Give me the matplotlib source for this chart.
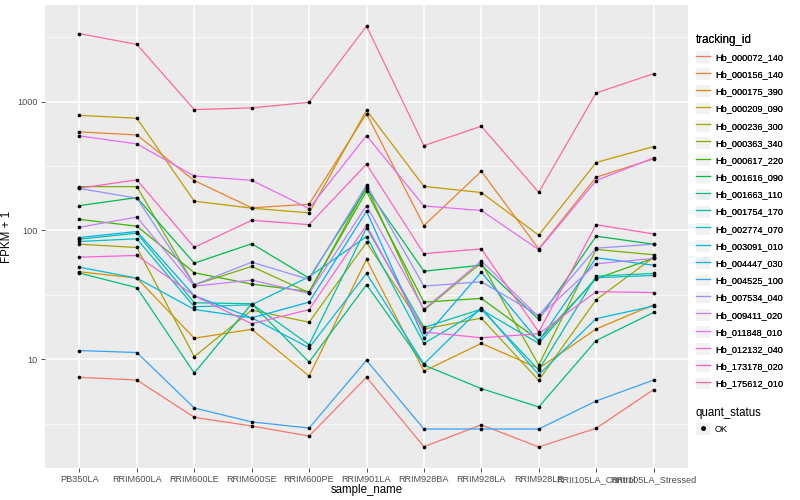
import matplotlib.pyplot as plt
import matplotlib.ticker as mticker
from matplotlib.lines import Line2D
from matplotlib.patches import Rectangle
from matplotlib.legend_handler import HandlerTuple

plt.rcParams['font.family'] = ['Liberation Sans', 'DejaVu Sans']

samples = ['PB350LA', 'RRIM600LA', 'RRIM600LE', 'RRIM600SE', 'RRIM600PE', 'RRIM901LA',
           'RRIM928BA', 'RRIM928LA', 'RRIM928LE', 'RRII105LA_Control', 'RRII105LA_Stressed']

# FPKM + 1 per gene, one value per sample
hb_000072_140 = [7.25, 6.91, 3.55, 3.04, 2.54, 7.25, 2.10, 3.10, 2.09, 2.92, 5.82]
hb_000156_140 = [582, 552, 244, 150, 160, 807, 109, 288, 72, 259, 360]
hb_000175_390 = [47.8, 42.7, 14.6, 17.1, 7.43, 59.6, 8.11, 13.3, 8.51, 17.2, 26.5]
hb_000209_090 = [783, 743, 169, 149, 137, 856, 220, 197, 92, 337, 448]
hb_000236_300 = [78.3, 73.8, 10.5, 24.1, 19.4, 80.7, 17.2, 20.9, 6.87, 29.0, 61.8]
hb_000363_340 = [219, 219, 37.9, 52.6, 32.9, 219, 24.0, 56.2, 9.03, 71.3, 64.8]
hb_000617_220 = [122, 108, 47.0, 38.4, 33.5, 202, 27.8, 29.7, 14.1, 42.2, 61.0]
hb_001616_090 = [156, 180, 55.8, 78.9, 42.7, 212, 48.3, 53.8, 20.4, 90.3, 78.3]
hb_001663_110 = [46.7, 36.0, 7.83, 27.0, 9.53, 37.9, 9.03, 5.93, 4.27, 14.0, 23.1]
hb_001754_170 = [85.6, 95.3, 27.5, 27.0, 13.0, 105, 17.7, 24.5, 8.26, 44.2, 46.4]
hb_002774_070 = [82.2, 86.2, 25.6, 26.5, 43.7, 89.8, 13.3, 24.3, 13.3, 43.0, 44.8]
hb_003091_010 = [51.9, 42.7, 24.4, 21.0, 12.3, 46.4, 9.2, 25.2, 7.6, 20.7, 25.9]
hb_004447_030 = [88.2, 98.2, 31.2, 21.0, 27.8, 141, 14.6, 47.5, 13.8, 61.4, 53.8]
hb_004525_100 = [11.7, 11.3, 4.19, 3.27, 2.93, 9.82, 2.88, 2.88, 2.88, 4.75, 6.91]
hb_007534_040 = [212, 178, 37.9, 56.8, 41.7, 226, 37.0, 40.0, 21.9, 72.9, 78.3]
hb_009411_020 = [106, 127, 37.0, 41.2, 32.5, 156, 24.5, 58.2, 21.3, 55.2, 60.7]
hb_011848_010 = [542, 470, 265, 245, 148, 545, 155, 143, 71, 244, 366]
hb_012132_040 = [62.1, 64.0, 31.2, 18.9, 24.3, 110, 16.3, 14.7, 15.8, 33.5, 33.0]
hb_173178_020 = [213, 247, 74, 120, 111, 327, 66, 72, 16.3, 111, 94]
hb_175612_010 = [3370, 2780, 867, 894, 988, 3860, 456, 644, 198, 1168, 1648]

tracking_ids = ['Hb_000072_140', 'Hb_000156_140', 'Hb_000175_390', 'Hb_000209_090',
                'Hb_000236_300', 'Hb_000363_340', 'Hb_000617_220', 'Hb_001616_090',
                'Hb_001663_110', 'Hb_001754_170', 'Hb_002774_070', 'Hb_003091_010',
                'Hb_004447_030', 'Hb_004525_100', 'Hb_007534_040', 'Hb_009411_020',
                'Hb_011848_010', 'Hb_012132_040', 'Hb_173178_020', 'Hb_175612_010']
series = [hb_000072_140, hb_000156_140, hb_000175_390, hb_000209_090, hb_000236_300,
          hb_000363_340, hb_000617_220, hb_001616_090, hb_001663_110, hb_001754_170,
          hb_002774_070, hb_003091_010, hb_004447_030, hb_004525_100, hb_007534_040,
          hb_009411_020, hb_011848_010, hb_012132_040, hb_173178_020, hb_175612_010]

# ggplot default hue palette for 20 levels
colors = ['#F8766D', '#EA8331', '#D89000', '#C09B00', '#A3A500', '#7CAE00', '#39B600',
          '#00BB4E', '#00BF7D', '#00C1A3', '#00BFC4', '#00BAE0', '#00B0F6', '#35A2FF',
          '#9590FF', '#C77CFF', '#E76BF3', '#FA62DB', '#FF62BC', '#FF6C91']

fig = plt.figure(figsize=(8, 5), dpi=100)
ax = fig.add_axes([45 / 800, 32 / 500, 643 / 800, 463 / 500])
ax.set_facecolor('#EBEBEB')

x = list(range(len(samples)))
for vals, col in zip(series, colors):
    ax.plot(x, vals, color=col, lw=0.9, zorder=2)
for vals in series:
    ax.scatter(x, vals, s=7, color='black', zorder=3, linewidths=0)

ax.set_yscale('log')
ax.set_xlim(-0.6, len(samples) - 0.4)
ax.margins(y=0.05)
ax.yaxis.set_major_locator(mticker.FixedLocator([10, 100, 1000]))
ax.yaxis.set_major_formatter(mticker.FixedFormatter(['10', '100', '1000']))
ax.yaxis.set_minor_locator(mticker.FixedLocator([10 ** 0.5, 10 ** 1.5, 10 ** 2.5, 10 ** 3.5]))
ax.yaxis.set_minor_formatter(mticker.NullFormatter())
ax.set_xticks(x)
ax.set_xticklabels(samples)

ax.grid(which='major', color='white', lw=1.1)
ax.grid(which='minor', axis='y', color='white', lw=0.5)
ax.set_axisbelow(True)
for s in ax.spines.values():
    s.set_visible(False)
ax.tick_params(which='major', length=3, width=0.6, color='#333333', labelsize=6.6,
               labelcolor='#4D4D4D', pad=2)
ax.tick_params(which='minor', length=0)

ax.set_xlabel('sample_name', fontsize=8.3, labelpad=0)
ax.set_ylabel('FPKM + 1', fontsize=8.3, labelpad=3)

key = lambda: Rectangle((0, 0), 1, 1, facecolor='#F2F2F2', edgecolor='none')
handles = [(key(), Line2D([], [], color=c, lw=0.9)) for c in colors]
leg1 = fig.legend(handles, tracking_ids, loc='upper left', bbox_to_anchor=(692 / 800, 1 - 30 / 500),
                  frameon=False, fontsize=6.6, title='tracking_id', title_fontsize=8.3,
                  handler_map={tuple: HandlerTuple(ndivide=1)}, handlelength=1.6,
                  handleheight=1.6, labelspacing=0.59, handletextpad=0.5,
                  borderaxespad=0, alignment='left')

ok_handle = (key(), Line2D([], [], color='black', marker='o', ms=2.5, lw=0))
leg2 = fig.legend([ok_handle], ['OK'], loc='upper left', bbox_to_anchor=(692 / 800, 1 - 403 / 500),
                  frameon=False, fontsize=6.6, title='quant_status', title_fontsize=8.3,
                  handler_map={tuple: HandlerTuple(ndivide=1)}, handlelength=1.6,
                  handleheight=1.6, handletextpad=0.5, borderaxespad=0, alignment='left')
fig.add_artist(leg1)

fig.savefig('out.png', dpi=100)
